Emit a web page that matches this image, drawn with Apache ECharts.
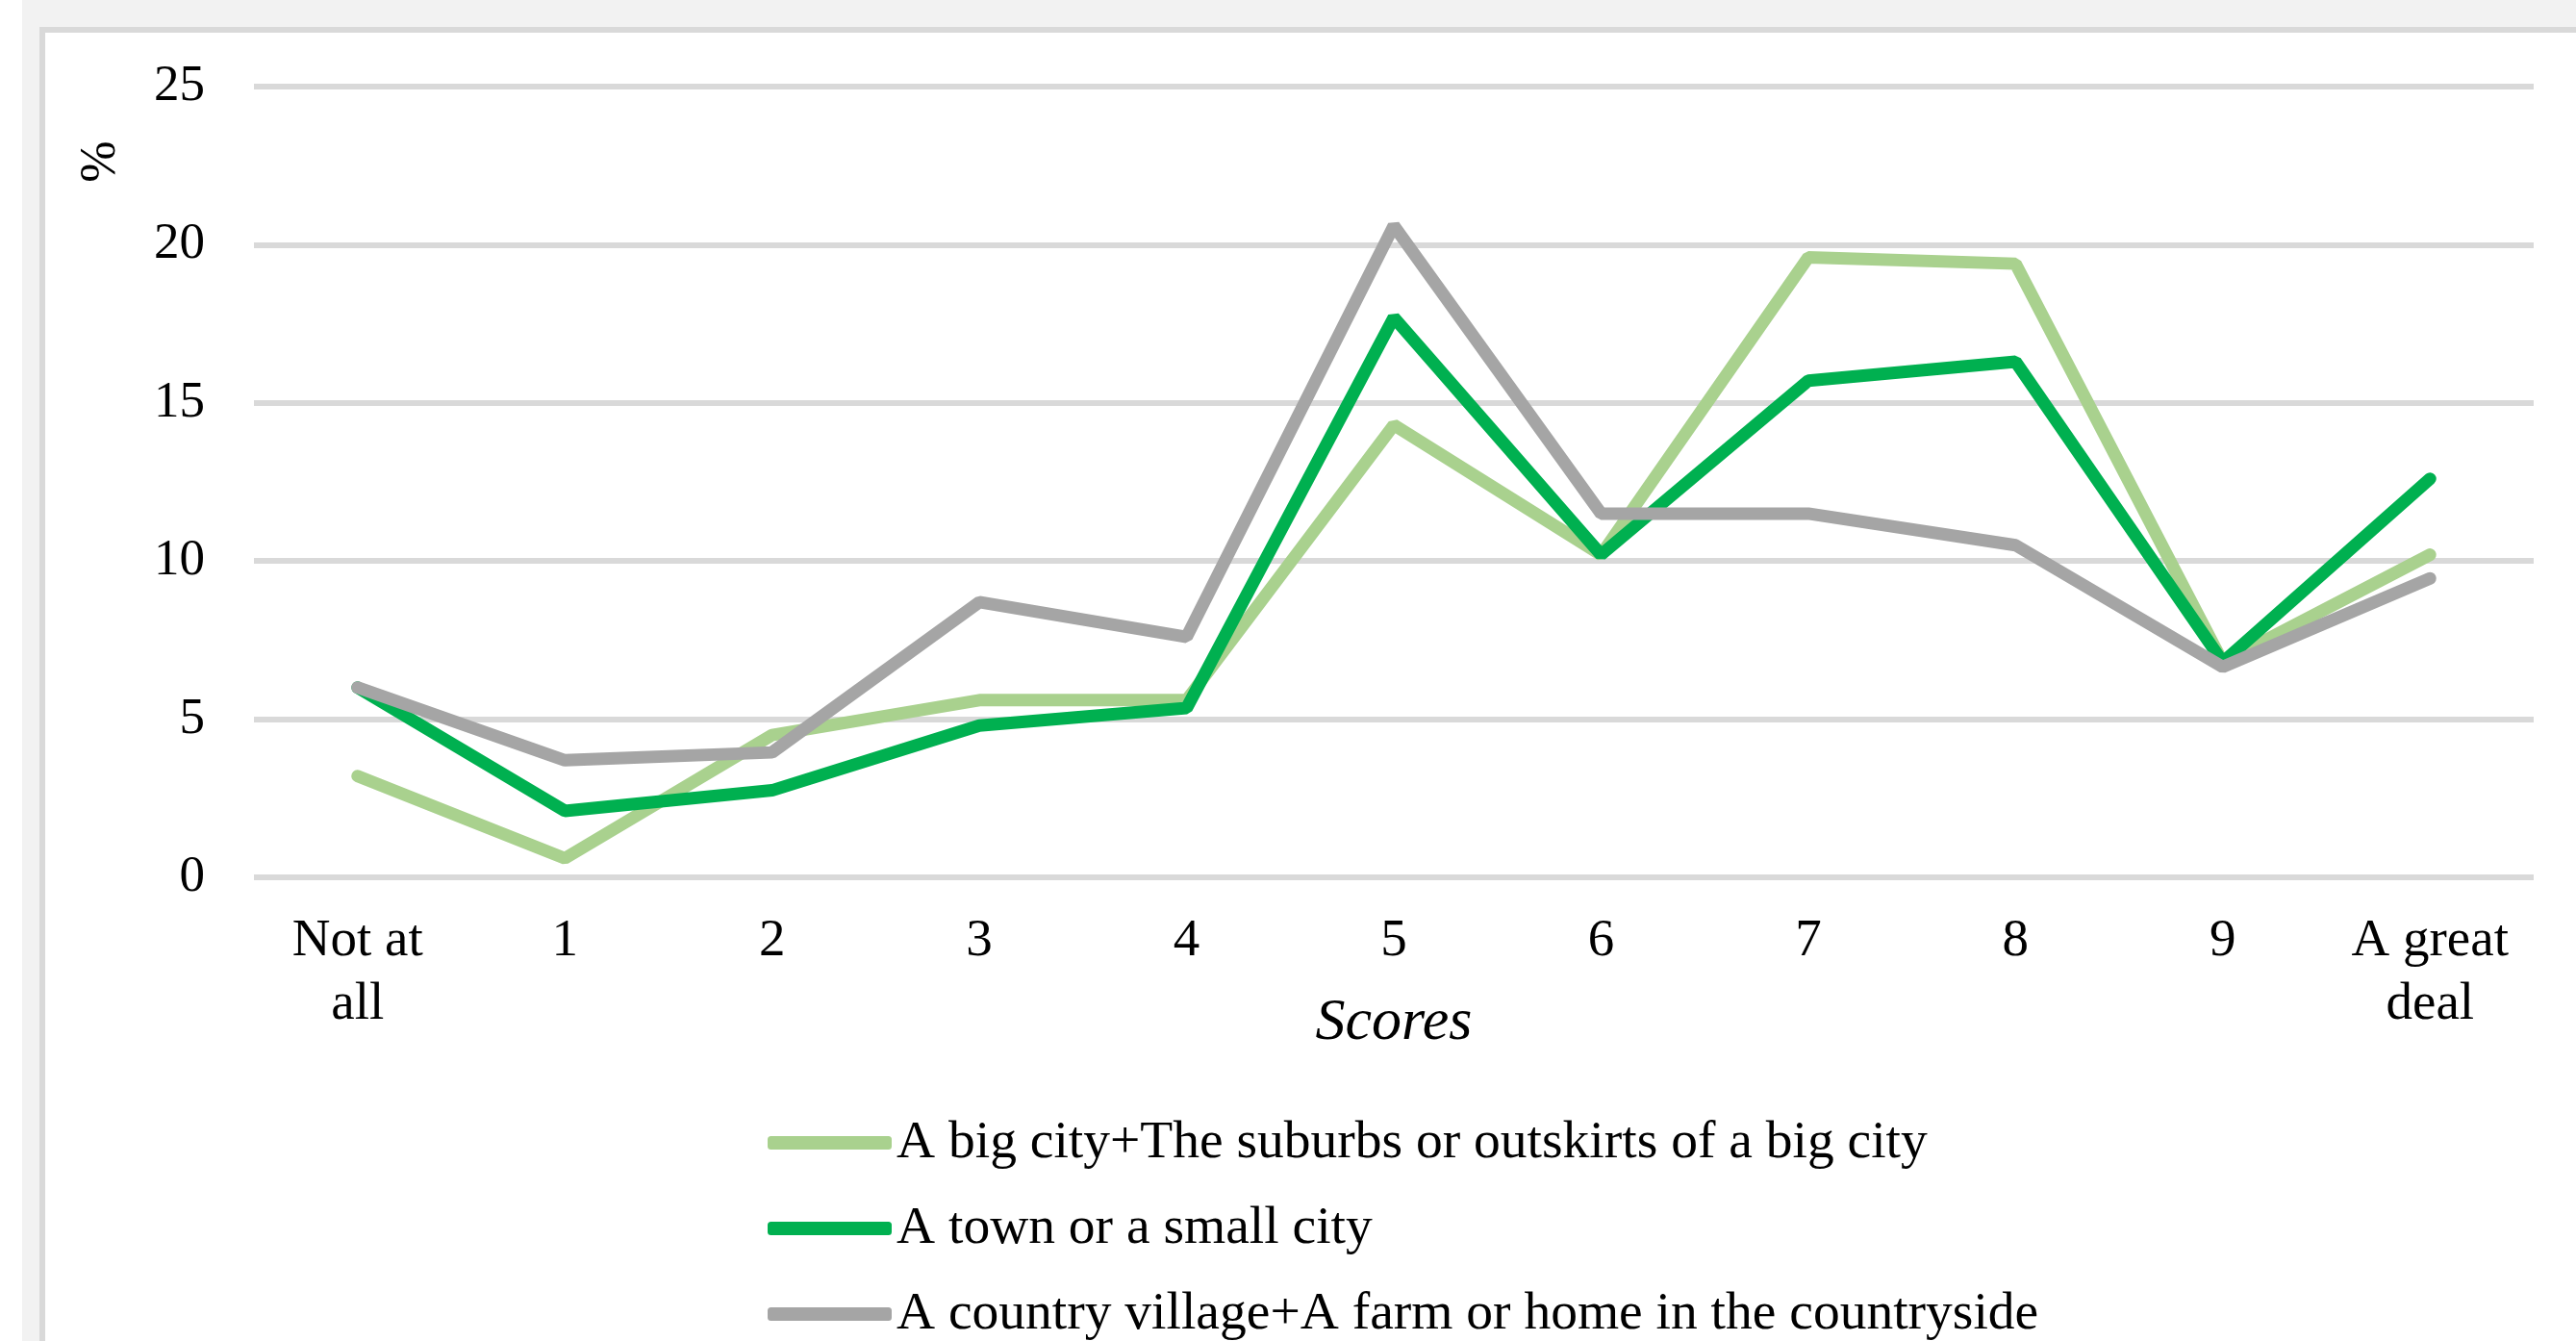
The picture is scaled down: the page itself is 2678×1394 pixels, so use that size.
<!DOCTYPE html>
<html>
<head>
<meta charset="utf-8">
<script src="https://cdn.jsdelivr.net/npm/echarts@6/dist/echarts.min.js"></script>
<style>
html,body{margin:0;padding:0;width:2678px;height:1394px;overflow:hidden;background:#fff;}
.outer{position:absolute;left:23px;top:0;right:0;bottom:0;background:#f2f2f2;}
.panel{position:absolute;left:41px;top:28px;right:-20px;bottom:-20px;background:#fff;border-left:6px solid #d9d9d9;border-top:6px solid #d9d9d9;}
#chart{position:absolute;left:0;top:0;width:2678px;height:1394px;}
</style>
</head>
<body>
<div class="outer"></div>
<div class="panel"></div>
<div id="chart"></div>
<script>
// scores on the x axis
const categories = ['Not at\nall', '1', '2', '3', '4', '5', '6', '7', '8', '9', 'A great\ndeal']
const seriesNames = [
    'A big city+The suburbs or outskirts of a big city',
    'A town or a small city',
    'A country village+A farm or home in the countryside'
]
// values in %
const bigCity = [3.2, 0.6, 4.5, 5.6, 5.6, 14.3, 10.2, 19.6, 19.4, 6.8, 10.2]
const town = [6.0, 2.1, 2.75, 4.8, 5.35, 17.7, 10.2, 15.7, 16.3, 6.8, 12.6]
const country = [6.0, 3.7, 3.95, 8.7, 7.6, 20.6, 11.5, 11.5, 10.5, 6.65, 9.45]
const yTicks = [0, 5, 10, 15, 20, 25]

const colors = ['#a9d18e', '#00b050', '#a5a5a5']
const font = 'Liberation Serif'

let chart = echarts.init(document.getElementById('chart'))

function lineSeries(name, data, color){
    return {
        name: name,
        type: 'line',
        data: data,
        symbol: 'none',
        color: color,
        lineStyle: { width: 13, color: color, cap: 'round' }
    }
}

let option = {
    backgroundColor: 'rgba(0,0,0,0)',
    animation: false,
    grid: {
        left: 264,
        right: 44,
        top: 90,
        bottom: 482,
        containLabel: false,
        outerBoundsMode: 'none'
    },
    legend: {
        type: 'plain',
        orient: 'vertical',
        left: 798,
        top: 1160,
        padding: 0,
        height: 260,
        itemWidth: 129,
        itemHeight: 14,
        itemGap: 33,
        icon: 'roundRect',
        textStyle: { fontFamily: font, fontSize: 55.5, color: '#000', lineHeight: 56 },
        data: seriesNames
    },
    xAxis: {
        type: 'category',
        data: categories,
        name: 'Scores',
        nameLocation: 'middle',
        nameGap: 121,
        nameMoveOverlap: false,
        nameTextStyle: { fontFamily: font, fontSize: 62, fontStyle: 'italic', color: '#000' },
        axisLine: { show: false },
        axisTick: { show: false },
        axisLabel: {
            interval: 0,
            margin: 34,
            fontFamily: font,
            fontSize: 55,
            lineHeight: 66,
            color: '#000'
        }
    },
    yAxis: {
        type: 'value',
        min: yTicks[0],
        max: yTicks[yTicks.length - 1],
        interval: 5,
        axisLine: { show: false },
        axisTick: { show: false },
        axisLabel: { margin: 51, fontFamily: font, fontSize: 53, color: '#000' },
        splitLine: { lineStyle: { color: '#d9d9d9', width: 6 } }
    },
    graphic: [{
        type: 'text',
        x: 105,
        y: 168,
        rotation: Math.PI / 2,
        style: {
            text: '%',
            font: '52px "Liberation Serif"',
            fill: '#000',
            align: 'center',
            verticalAlign: 'middle'
        }
    }],
    series: [
        lineSeries(seriesNames[0], bigCity, colors[0]),
        lineSeries(seriesNames[1], town, colors[1]),
        lineSeries(seriesNames[2], country, colors[2])
    ]
}
chart.setOption(option)
</script>
</body>
</html>
